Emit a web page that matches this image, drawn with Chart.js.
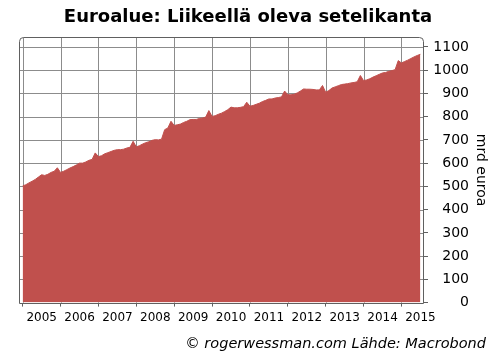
<!DOCTYPE html>
<html>
<head>
<meta charset="utf-8">
<script src="https://cdn.jsdelivr.net/npm/chart.js@4.4.1/dist/chart.umd.min.js"></script>
<style>
html,body{margin:0;padding:0;background:#fff;}
</style>
</head>
<body>
<canvas id="chart" width="496" height="361"></canvas>
<script>
// banknotes in circulation, euro area, monthly from Jan 2005 (mrd euroa)
const startYear = 2005;
const yearTicks = [2005,2006,2007,2008,2009,2010,2011,2012,2013,2014,2015];
const notes = [
502,507,515,522,530,540,550,547,552,560,565,580,   // 2005
560,565,572,579,585,592,600,600,605,612,616,644,   // 2006
628,632,640,645,650,655,658,658,660,665,668,694,   // 2007
670,675,682,688,692,698,701,700,703,744,751,780,   // 2008
762,765,768,775,780,787,788,788,792,794,798,826,   // 2009
801,804,810,815,822,830,841,838,838,840,843,862,   // 2010
845,848,853,858,865,870,876,876,880,882,885,910,   // 2011
894,894,896,902,910,919,918,918,917,915,915,934,   // 2012
905,912,923,928,933,938,940,942,945,947,950,977,   // 2013
955,958,963,970,976,982,988,990,995,998,1002,1041, // 2014
1031,1037,1043,1050,1057,1063,1068                 // 2015
];
const titleText = "Euroalue: Liikeellä oleva setelikanta";
const sourceText = "© rogerwessman.com Lähde: Macrobond";
const unitText = "mrd euroa";

const fillColor = "#C0504D";
const gridColor = "#8c8c8c";
const edgeColor = "#606060";
const font = "'DejaVu Sans', Verdana, sans-serif";

// grid lines (under the area) and rounded frame (on top)
const plotGrid = {
  id: "plotGrid",
  beforeDatasetsDraw(chart){
    const {ctx, chartArea:a, scales:{x, y}} = chart;
    ctx.save();
    ctx.strokeStyle = gridColor;
    ctx.lineWidth = 1;
    ctx.beginPath();
    x.ticks.forEach(t => {
      const px = Math.round(x.getPixelForValue(t.value)) + 0.5;
      ctx.moveTo(px, a.top);
      ctx.lineTo(px, a.bottom);
    });
    y.ticks.forEach(t => {
      const py = Math.round(y.getPixelForValue(t.value)) + 0.5;
      ctx.moveTo(a.left, py);
      ctx.lineTo(a.right, py);
    });
    ctx.stroke();
    ctx.restore();
  },
  afterDatasetsDraw(chart){
    const {ctx, chartArea:a} = chart;
    const l = Math.round(a.left) - 0.5, t = Math.round(a.top) - 0.5;
    const r = Math.round(a.right) + 0.5, b = Math.round(a.bottom) + 0.5;
    ctx.save();
    ctx.strokeStyle = edgeColor;
    ctx.lineWidth = 1;
    ctx.beginPath();
    ctx.moveTo(l, b);
    ctx.lineTo(l, t + 4);
    ctx.arcTo(l, t, l + 4, t, 4);
    ctx.lineTo(r - 4, t);
    ctx.arcTo(r, t, r, t + 4, 4);
    ctx.lineTo(r, b);
    ctx.lineTo(l, b);
    ctx.stroke();
    ctx.restore();
  }
};

new Chart(document.getElementById("chart"),{
  type:"line",
  data:{
    datasets:[{
      data: notes.map((v,i) => ({x: startYear + i/12, y: v})),
      fill:"origin",
      backgroundColor:fillColor,
      borderColor:fillColor,
      borderWidth:1,
      pointRadius:0,
      tension:0
    }]
  },
  options:{
    responsive:false,
    animation:false,
    layout:{padding:{top:0,right:10,bottom:4,left:10}},
    plugins:{
      legend:{display:false},
      tooltip:{enabled:false},
      title:{
        display:true,
        text:titleText,
        color:"#000",
        font:{family:font,size:18,weight:"bold"},
        padding:{top:7,bottom:9}
      },
      subtitle:{
        display:true,
        position:"bottom",
        align:"end",
        text:sourceText,
        color:"#000",
        font:{family:font,size:14.5,style:"italic"},
        padding:{top:6,bottom:4}
      }
    },
    scales:{
      x:{
        type:"linear",
        min:2004.93,
        max:2015.57,
        afterBuildTicks: s => { s.ticks = yearTicks.map(v => ({value:v})); },
        ticks:{
          labelOffset:19,
          padding:4,
          maxRotation:0,
          autoSkip:false,
          color:"#000",
          font:{family:font,size:12},
          callback: v => String(v)
        },
        grid:{drawOnChartArea:false,tickLength:4,tickColor:edgeColor},
        border:{display:false},
        afterFit: s => { s.height = 27; }
      },
      y:{
        position:"right",
        weight:0,
        min:0,
        max:1140,
        ticks:{
          stepSize:100,
          includeBounds:false,
          crossAlign:"far",
          color:"#000",
          font:{family:font,size:14},
          callback: v => String(v)
        },
        grid:{drawOnChartArea:false,tickLength:5,tickColor:edgeColor},
        border:{display:false},
        afterFit: s => { s.width = 46; }
      },
      // outer strip on the right that only carries the unit title
      unit:{
        position:"right",
        weight:1,
        display:true,
        grid:{display:false},
        ticks:{display:false},
        border:{display:false},
        title:{
          display:true,
          text:unitText,
          color:"#000",
          font:{family:font,size:14},
          padding:{top:-3,bottom:0}
        },
        afterFit: s => { s.width = 17; }
      },
      pad:{
        position:"left",
        display:true,
        grid:{display:false},
        ticks:{display:false},
        border:{display:false},
        afterFit: s => { s.width = 10; }
      }
    }
  },
  plugins:[plotGrid]
});
</script>
</body>
</html>
